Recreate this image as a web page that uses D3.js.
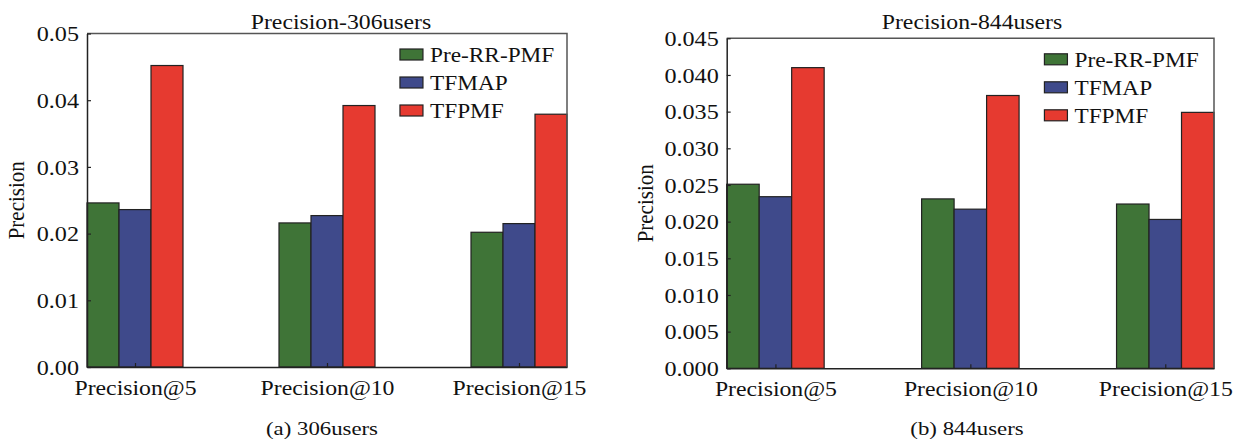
<!DOCTYPE html>
<html>
<head>
<meta charset="utf-8">
<script src="https://cdn.jsdelivr.net/npm/d3@7/dist/d3.min.js"></script>
<style>
  html, body { margin: 0; padding: 0; background: #fff; }
  svg { display: block; }
  text { font-family: "Liberation Serif", "Times New Roman", serif; fill: #111; }
</style>
</head>
<body>
<svg id="chart" width="1240" height="448"></svg>
<script>
// ---- data ----
const categories = ["Precision@5", "Precision@10", "Precision@15"];
const seriesNames = ["Pre-RR-PMF", "TFMAP", "TFPMF"];
const seriesColors = ["#3f7437", "#3f4a8b", "#e63a30"];

const pre306   = [0.0246, 0.0216, 0.0202];
const tfmap306 = [0.0236, 0.0227, 0.0215];
const tfpmf306 = [0.0452, 0.0392, 0.0379];

const pre844   = [0.0251, 0.0231, 0.0224];
const tfmap844 = [0.0234, 0.0217, 0.0203];
const tfpmf844 = [0.0410, 0.0372, 0.0349];

const yTicks306 = [0, 0.01, 0.02, 0.03, 0.04, 0.05];
const yTicks844 = [0, 0.005, 0.010, 0.015, 0.020, 0.025, 0.030, 0.035, 0.040, 0.045];

const svg = d3.select("#chart");

function stretchedText(g, x, y, str, size, sx, anchor, rotate) {
  return g.append("text")
    .attr("transform", `translate(${x},${y}) scale(${sx},1)` + (rotate ? ` rotate(${rotate})` : ""))
    .attr("text-anchor", anchor)
    .attr("font-size", size)
    .text(str);
}

function drawPanel(cfg) {
  const { left, right, top, bottom, data, ticks, fmt, title, titleX, caption, captionX, ylabelX } = cfg;
  const g = svg.append("g");

  const x = d3.scalePoint().domain(categories).range([left, right]).padding(0.25);
  const step = x.step();
  const xs = d3.scaleBand().domain(seriesNames).range([-step / 4, step / 4]);
  const y = d3.scaleLinear().domain([ticks[0], ticks[ticks.length - 1]]).range([bottom, top]);

  // bars
  data.forEach((vals, si) => {
    g.selectAll(null).data(vals).enter().append("rect")
      .attr("x", (d, i) => x(categories[i]) + xs(seriesNames[si]))
      .attr("y", d => y(d))
      .attr("width", xs.bandwidth())
      .attr("height", d => y(0) - y(d))
      .attr("fill", seriesColors[si])
      .attr("stroke", "#222")
      .attr("stroke-width", 1.2);
  });

  // frame (top & right)
  g.append("path")
    .attr("d", `M${left},${top}H${right}V${bottom}`)
    .attr("fill", "none").attr("stroke", "#555").attr("stroke-width", 1.5);

  // y axis
  const ya = g.append("g").attr("transform", `translate(${left},0)`)
    .call(d3.axisLeft(y).tickValues(ticks).tickFormat(d3.format(fmt)).tickSizeInner(-4).tickSizeOuter(0).tickPadding(8));
  ya.select(".domain").attr("stroke", "#222").attr("stroke-width", 1.5);
  ya.selectAll(".tick line").attr("stroke", "#222").attr("stroke-width", 1.2);
  ya.selectAll(".tick text").remove();
  ya.selectAll(".tick").each(function (d) {
    d3.select(this).append("text")
      .attr("transform", `translate(-8,0) scale(1.15,1)`)
      .attr("text-anchor", "end")
      .attr("dy", "0.34em")
      .attr("font-size", 21)
      .attr("fill", "#111")
      .text(d3.format(fmt)(d));
  });

  // x axis
  const xa = g.append("g").attr("transform", `translate(0,${bottom})`)
    .call(d3.axisBottom(x).tickSizeInner(-4).tickSizeOuter(0).tickFormat(""));
  xa.select(".domain").attr("stroke", "#222").attr("stroke-width", 1.5);
  xa.selectAll(".tick line").attr("stroke", "#222").attr("stroke-width", 1.2);
  xa.selectAll(".tick").each(function (d) {
    d3.select(this).append("text")
      .attr("transform", `translate(0,28) scale(1.08,1)`)
      .attr("text-anchor", "middle")
      .attr("font-size", 22)
      .attr("fill", "#111")
      .text(d);
  });

  // y label
  stretchedText(g, ylabelX, (top + bottom) / 2, "Precision", 21, 1.12, "middle", -90);

  // title
  stretchedText(g, titleX, 28.5, title, 21, 1.13, "middle");

  // caption
  stretchedText(g, captionX, 434.5, caption, 19, 1.2, "middle");

  // legend
  const lx = left + (right - left) * 0.652;
  seriesNames.forEach((name, i) => {
    const cy = top + 21 + i * 28;
    g.append("rect")
      .attr("x", lx).attr("y", cy - 5.5).attr("width", 23).attr("height", 11)
      .attr("fill", seriesColors[i]).attr("stroke", "#222").attr("stroke-width", 1.2);
    stretchedText(g, lx + 30, cy + 7.5, name, 22, 1.06, "start");
  });
}

drawPanel({
  left: 87, right: 567, top: 33.5, bottom: 367,
  data: [pre306, tfmap306, tfpmf306], ticks: yTicks306, fmt: ".2f",
  title: "Precision-306users", titleX: 341,
  caption: "(a) 306users", captionX: 322, ylabelX: 24
});

drawPanel({
  left: 726.7, right: 1214, top: 38.3, bottom: 368.3,
  data: [pre844, tfmap844, tfpmf844], ticks: yTicks844, fmt: ".3f",
  title: "Precision-844users", titleX: 972,
  caption: "(b) 844users", captionX: 967, ylabelX: 653
});
</script>
</body>
</html>
